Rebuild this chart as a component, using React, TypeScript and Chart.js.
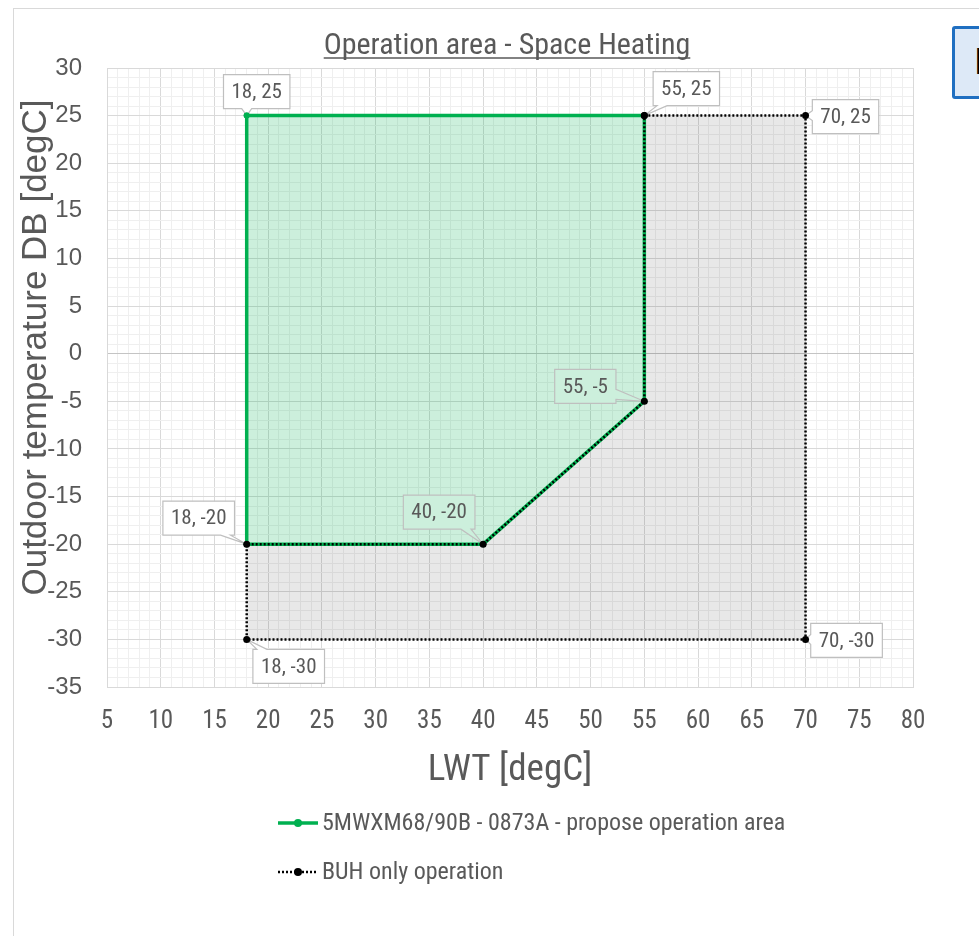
import React, { useEffect, useRef } from 'react';
import { Chart, registerables } from 'chart.js';

Chart.register(...registerables);

// ---------- data ----------
const chartTitle = 'Operation area - Space Heating';
const xAxisTitle = 'LWT [degC]';
const yAxisTitle = 'Outdoor temperature DB [degC]';

const greenLabel = '5MWXM68/90B - 0873A - propose operation area';
const greenX = [18, 55, 55, 40, 18, 18];
const greenY = [25, 25, -5, -20, -20, 25];

const buhLabel = 'BUH only operation';
const buhX = [55, 70, 70, 18, 18, 40, 55, 55];
const buhY = [25, 25, -30, -30, -20, -20, -5, 25];

const xTickLabels = [5, 10, 15, 20, 25, 30, 35, 40, 45, 50, 55, 60, 65, 70, 75, 80];
const yTickLabels = [30, 25, 20, 15, 10, 5, 0, -5, -10, -15, -20, -25, -30, -35];

// labelled points (callouts)
const calloutX = [18, 55, 70, 55, 40, 18, 18, 70];
const calloutY = [25, 25, 25, -5, -20, -20, -30, -30];

// ---------- styles / placement ----------
const calloutOffsets = [
  { dx: 10, dy: -24, tint: false },
  { dx: 42, dy: -27, tint: false },
  { dx: 40, dy: 1, tint: false },
  { dx: -59, dy: -15, tint: true },
  { dx: -44, dy: -32, tint: true },
  { dx: -48, dy: -26, tint: false },
  { dx: 42, dy: 27, tint: false },
  { dx: 41, dy: 1, tint: false },
];

const GREEN = '#00b050';
const TEXT = '#595959';
const GREEN_FILL = 'rgba(0,176,80,0.2)';
const GRAY_FILL = 'rgba(0,0,0,0.09)';
const WIDE = '"Liberation Sans", Arial, Roboto, sans-serif';

const FONT_CANDIDATES = [
  'Roboto Condensed',
  'Liberation Sans Narrow',
  'Arial Narrow',
  'DejaVu Sans Condensed',
  'Noto Sans Condensed',
];

function pickFont(): string {
  const c = document.createElement('canvas').getContext('2d');
  if (!c) return 'Roboto';
  const sample = 'mmmmmmmmmmlliiWWXX0123456789 Operation';
  const bases = ['monospace', 'serif'];
  const baseW = bases.map((b) => {
    c.font = `40px ${b}`;
    return c.measureText(sample).width;
  });
  for (const f of FONT_CANDIDATES) {
    const w = bases.map((b) => {
      c.font = `40px "${f}", ${b}`;
      return c.measureText(sample).width;
    });
    if (w[0] !== baseW[0] && w[1] !== baseW[1]) return f;
  }
  return 'Roboto';
}

function drawCallout(
  ctx: CanvasRenderingContext2D,
  px: number,
  py: number,
  cx: number,
  cy: number,
  text: string,
  font: string,
  tint: boolean
) {
  ctx.save();
  ctx.font = font;
  const tw = ctx.measureText(text).width;
  const w = tw + 16;
  const h = 34;
  const l = cx - w / 2, r = cx + w / 2, t = cy - h / 2, b = cy + h / 2;
  const ww = 10;
  const clamp = (v: number, lo: number, hi: number) => Math.max(lo, Math.min(hi, v));
  let side: string;
  if (py >= b) side = 'bottom';
  else if (py <= t) side = 'top';
  else if (px >= r) side = 'right';
  else side = 'left';
  const pts: number[][] = [];
  pts.push([l, t]);
  if (side === 'top') {
    const c = clamp(px, l + 4 + ww / 2, r - 4 - ww / 2);
    pts.push([c - ww / 2, t], [px, py], [c + ww / 2, t]);
  }
  pts.push([r, t]);
  if (side === 'right') {
    const c = clamp(py, t + 4 + ww / 2, b - 4 - ww / 2);
    pts.push([r, c - ww / 2], [px, py], [r, c + ww / 2]);
  }
  pts.push([r, b]);
  if (side === 'bottom') {
    const c = clamp(px, l + 4 + ww / 2, r - 4 - ww / 2);
    pts.push([c + ww / 2, b], [px, py], [c - ww / 2, b]);
  }
  pts.push([l, b]);
  if (side === 'left') {
    const c = clamp(py, t + 4 + ww / 2, b - 4 - ww / 2);
    pts.push([l, c + ww / 2], [px, py], [l, c - ww / 2]);
  }
  ctx.beginPath();
  pts.forEach(([x, y], i) => (i ? ctx.lineTo(x, y) : ctx.moveTo(x, y)));
  ctx.closePath();
  ctx.fillStyle = '#ffffff';
  ctx.fill();
  if (tint) {
    ctx.fillStyle = GREEN_FILL;
    ctx.fill();
  }
  ctx.strokeStyle = '#bfbfbf';
  ctx.lineWidth = 1.2;
  ctx.stroke();
  ctx.fillStyle = TEXT;
  ctx.textAlign = 'center';
  ctx.textBaseline = 'middle';
  ctx.fillText(text, cx, cy + 1);
  ctx.restore();
}

export default function App() {
  const canvasRef = useRef<HTMLCanvasElement | null>(null);

  useEffect(() => {
    document.body.style.margin = '0';
    const canvas = canvasRef.current;
    if (!canvas) return;
    const FAMILY = `"${pickFont()}", Roboto, sans-serif`;
    const f = (size: number) => `${size}px ${FAMILY}`;

    const decor = {
      id: 'decor',
      beforeDatasetsDraw(chart: any) {
        const ctx: CanvasRenderingContext2D = chart.ctx;
        const xs = chart.scales.x;
        const ys = chart.scales.y;
        calloutX.forEach((xv, i) => {
          const px = xs.getPixelForValue(xv);
          const py = ys.getPixelForValue(calloutY[i]);
          const o = calloutOffsets[i];
          drawCallout(ctx, px, py, px + o.dx, py + o.dy, `${xv}, ${calloutY[i]}`, f(21), o.tint);
        });
      },
      afterDraw(chart: any) {
        const ctx: CanvasRenderingContext2D = chart.ctx;
        const area = chart.chartArea;
        ctx.save();
        // title
        ctx.font = f(30);
        ctx.fillStyle = TEXT;
        ctx.textAlign = 'center';
        ctx.textBaseline = 'alphabetic';
        const tx = (area.left + area.right) / 2 - 3;
        const ty = 54;
        ctx.fillText(chartTitle, tx, ty);
        const tw = ctx.measureText(chartTitle).width;
        ctx.strokeStyle = TEXT;
        ctx.lineWidth = 1.5;
        ctx.beginPath();
        ctx.moveTo(tx - tw / 2, ty + 4);
        ctx.lineTo(tx + tw / 2, ty + 4);
        ctx.stroke();
        // y title
        ctx.save();
        ctx.translate(36, (area.top + area.bottom) / 2 - 30);
        ctx.rotate(-Math.PI / 2);
        ctx.font = `35px ${WIDE}`;
        ctx.textBaseline = 'middle';
        ctx.fillText(yAxisTitle, 0, 0);
        ctx.restore();
        // legend
        const items = [
          { y: 823, ds: chart.data.datasets[0] },
          { y: 872, ds: chart.data.datasets[1] },
        ];
        items.forEach(({ y, ds }) => {
          ctx.save();
          ctx.strokeStyle = ds.borderColor;
          ctx.lineWidth = ds.borderWidth;
          ctx.setLineDash(ds.borderDash || []);
          ctx.beginPath();
          ctx.moveTo(278, y);
          ctx.lineTo(318, y);
          ctx.stroke();
          ctx.setLineDash([]);
          ctx.fillStyle = ds.pointBackgroundColor;
          ctx.beginPath();
          ctx.arc(298, y, 4, 0, Math.PI * 2);
          ctx.fill();
          ctx.font = f(24);
          ctx.fillStyle = TEXT;
          ctx.textAlign = 'left';
          ctx.textBaseline = 'middle';
          ctx.fillText(ds.label, 322, y + 1);
          ctx.restore();
        });
        ctx.restore();
      },
    };

    const gridColor = (isY: boolean) => (c: any) => {
      const v = c.tick ? c.tick.value : 0;
      if (isY && v === 0) return '#c4c4c4';
      if (Math.round(v) % 5 === 0) return '#d9d9d9';
      return '#efefef';
    };

    const chart = new Chart(canvas, {
      type: 'line',
      data: {
        datasets: [
          {
            label: greenLabel,
            data: greenX.map((x, i) => ({ x, y: greenY[i] })),
            borderColor: GREEN,
            backgroundColor: GREEN_FILL,
            fill: 'shape',
            borderWidth: 3.5,
            pointRadius: 3,
            pointBackgroundColor: GREEN,
            pointBorderColor: GREEN,
            pointBorderWidth: 0,
            tension: 0,
            order: 1,
          } as any,
          {
            label: buhLabel,
            data: buhX.map((x, i) => ({ x, y: buhY[i] })),
            borderColor: '#000000',
            backgroundColor: GRAY_FILL,
            fill: 'shape',
            borderWidth: 2.5,
            borderDash: [2, 2],
            pointRadius: 3.5,
            pointBackgroundColor: '#000000',
            pointBorderColor: '#000000',
            pointBorderWidth: 0,
            tension: 0,
            order: 0,
          } as any,
        ],
      },
      options: {
        animation: false,
        responsive: false,
        maintainAspectRatio: false,
        events: [],
        layout: { padding: { left: 0, top: 68, right: 66, bottom: 129 } },
        plugins: {
          legend: { display: false },
          tooltip: { enabled: false },
          title: { display: false },
          filler: { drawTime: 'beforeDatasetsDraw' },
        } as any,
        scales: {
          x: {
            type: 'linear',
            min: 5,
            max: 80,
            afterFit: (s: any) => {
              s.height = 120;
            },
            ticks: {
              stepSize: 1,
              autoSkip: false,
              maxTicksLimit: 1000,
              maxRotation: 0,
              minRotation: 0,
              padding: 20,
              color: TEXT,
              font: { family: FAMILY, size: 25 },
              callback: (v: any) => (xTickLabels.includes(Number(v)) ? String(v) : ''),
            },
            grid: { color: gridColor(false), drawTicks: false, lineWidth: 1 },
            border: { color: '#d9d9d9' },
            title: {
              display: true,
              text: xAxisTitle,
              color: TEXT,
              font: { family: FAMILY, size: 37 },
              padding: { top: 0, bottom: 14 },
            },
          },
          y: {
            type: 'linear',
            min: -35,
            max: 30,
            afterFit: (s: any) => {
              s.width = 107;
            },
            ticks: {
              stepSize: 1,
              autoSkip: false,
              maxTicksLimit: 1000,
              padding: 25,
              color: TEXT,
              font: { family: WIDE, size: 24 },
              callback: (v: any) => (yTickLabels.includes(Number(v)) ? String(v) : ''),
            },
            grid: { color: gridColor(true), drawTicks: false, lineWidth: 1 },
            border: { color: '#d9d9d9' },
          },
        },
      } as any,
      plugins: [decor],
    });

    return () => chart.destroy();
  }, []);

  return (
    <div style={{ position: 'relative', width: 979, height: 936, overflow: 'hidden', background: '#fff' }}>
      <div
        style={{
          position: 'absolute',
          left: 13,
          top: 8,
          width: 1000,
          height: 1000,
          border: '1px solid #d9d9d9',
          boxSizing: 'border-box',
        }}
      />
      <div
        style={{
          position: 'absolute',
          left: 952,
          top: 26,
          width: 60,
          height: 73,
          background: '#dde9f7',
          border: '3px solid #1f6fc1',
          borderRadius: 3,
          boxSizing: 'border-box',
          fontFamily: 'Roboto, sans-serif',
          fontSize: 36,
          color: '#000',
          lineHeight: '67px',
          paddingLeft: 19,
        }}
      >
        I
      </div>
      <canvas
        ref={canvasRef}
        width={979}
        height={936}
        style={{ position: 'absolute', left: 0, top: 0, width: 979, height: 936 }}
      />
    </div>
  );
}
